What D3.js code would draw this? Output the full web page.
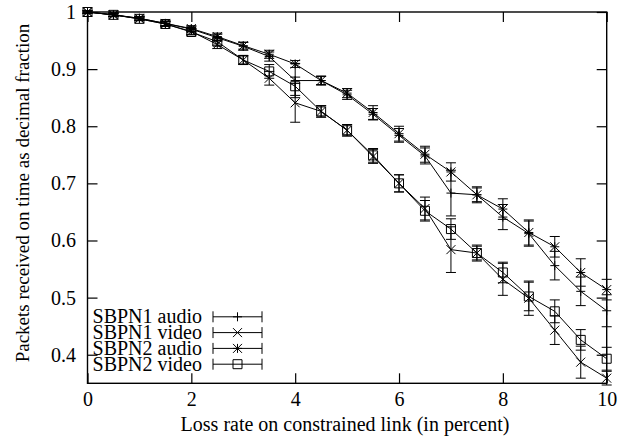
<!DOCTYPE html>
<html>
<head>
<meta charset="utf-8">
<script src="https://cdn.jsdelivr.net/npm/d3@7"></script>
<style>
  body { margin: 0; background: #fff; }
  svg { display: block; }
</style>
</head>
<body>
<svg id="chart" width="625" height="436"></svg>
<script>
// Loss rate on the constrained link (percent)
const lossRates = [0, 0.5, 1, 1.5, 2, 2.5, 3, 3.5, 4, 4.5, 5, 5.5, 6, 6.5, 7, 7.5, 8, 8.5, 9, 9.5, 10];

// Fraction of packets received on time, per stream
const sbpn1Audio = [1.0, 0.995, 0.989, 0.980, 0.970, 0.955, 0.940, 0.922, 0.880, 0.880, 0.855, 0.821, 0.784, 0.748, 0.683, 0.680, 0.641, 0.612, 0.556, 0.511, 0.477];
const sbpn2Audio = [1.0, 0.995, 0.989, 0.980, 0.971, 0.957, 0.941, 0.926, 0.909, 0.880, 0.858, 0.824, 0.787, 0.751, 0.720, 0.680, 0.655, 0.614, 0.589, 0.544, 0.514];
const sbpn1Video = [1.0, 0.995, 0.988, 0.979, 0.966, 0.943, 0.916, 0.884, 0.841, 0.826, 0.793, 0.747, 0.700, 0.656, 0.584, 0.578, 0.532, 0.499, 0.443, 0.387, 0.359];
const sbpn2Video = [1.0, 0.995, 0.988, 0.979, 0.965, 0.948, 0.916, 0.896, 0.870, 0.826, 0.793, 0.749, 0.700, 0.652, 0.620, 0.578, 0.544, 0.502, 0.476, 0.426, 0.393];

// Half-width of each error bar
const sbpn1AudioErr = [0.002, 0.003, 0.003, 0.004, 0.005, 0.006, 0.007, 0.008, 0.030, 0.008, 0.008, 0.010, 0.012, 0.014, 0.040, 0.012, 0.022, 0.022, 0.025, 0.025, 0.028];
const sbpn2AudioErr = [0.002, 0.003, 0.003, 0.004, 0.005, 0.006, 0.006, 0.007, 0.006, 0.007, 0.008, 0.012, 0.013, 0.014, 0.016, 0.014, 0.018, 0.022, 0.018, 0.024, 0.018];
const sbpn1VideoErr = [0.002, 0.003, 0.003, 0.004, 0.005, 0.007, 0.008, 0.012, 0.034, 0.010, 0.010, 0.012, 0.015, 0.020, 0.040, 0.012, 0.028, 0.030, 0.025, 0.028, 0.012];
const sbpn2VideoErr = [0.002, 0.003, 0.003, 0.004, 0.005, 0.006, 0.007, 0.012, 0.016, 0.010, 0.010, 0.012, 0.015, 0.018, 0.018, 0.014, 0.018, 0.025, 0.020, 0.018, 0.020];

const seriesNames = ["SBPN1 audio", "SBPN1 video", "SBPN2 audio", "SBPN2 video"];
const seriesMarkers = ["plus", "cross", "star", "square"];

const xTickValues = [0, 2, 4, 6, 8, 10];
const yTickValues = [0.4, 0.5, 0.6, 0.7, 0.8, 0.9, 1];
const xTitle = "Loss rate on constrained link (in percent)";
const yTitle = "Packets received on time as decimal fraction";

const series = [
  { name: seriesNames[0], marker: seriesMarkers[0], values: sbpn1Audio, errs: sbpn1AudioErr },
  { name: seriesNames[1], marker: seriesMarkers[1], values: sbpn1Video, errs: sbpn1VideoErr },
  { name: seriesNames[2], marker: seriesMarkers[2], values: sbpn2Audio, errs: sbpn2AudioErr },
  { name: seriesNames[3], marker: seriesMarkers[3], values: sbpn2Video, errs: sbpn2VideoErr }
];

const FONT = "'Liberation Serif', 'DejaVu Serif', serif";
const plot = { left: 87.5, right: 606.7, top: 12, bottom: 383.3 };
const svg = d3.select("#chart").attr("font-family", FONT);

const x = d3.scaleLinear().domain([0, 10]).range([plot.left, plot.right]);
const y = d3.scaleLinear().domain([0.35, 1]).range([plot.bottom, plot.top]);

// Marker glyphs, centred on the origin
const r = 4.5;
const markerPath = {
  plus:   `M${-r},0H${r}M0,${-r}V${r}`,
  cross:  `M${-r},${-r}L${r},${r}M${-r},${r}L${r},${-r}`,
  star:   `M${-r},0H${r}M0,${-r}V${r}M${-r},${-r}L${r},${r}M${-r},${r}L${r},${-r}`,
  square: `M${-r},${-r}H${r}V${r}H${-r}Z`
};

// Axes: inward ticks on all four sides
const tickLen = 10;
const labelSize = 20;
const fmt = d => (d === 1 ? "1" : d.toFixed(1));

const gx = svg.append("g").attr("transform", `translate(0,${plot.bottom})`)
  .call(d3.axisBottom(x).tickValues(xTickValues).tickSizeInner(-tickLen).tickSizeOuter(0).tickPadding(9));
const gxTop = svg.append("g").attr("transform", `translate(0,${plot.top})`)
  .call(d3.axisTop(x).tickValues(xTickValues).tickSizeInner(-tickLen).tickSizeOuter(0).tickFormat(""));
const gy = svg.append("g").attr("transform", `translate(${plot.left},0)`)
  .call(d3.axisLeft(y).tickValues(yTickValues).tickFormat(fmt).tickSizeInner(-tickLen).tickSizeOuter(0).tickPadding(11.5));
const gyRight = svg.append("g").attr("transform", `translate(${plot.right},0)`)
  .call(d3.axisRight(y).tickValues(yTickValues).tickSizeInner(-tickLen).tickSizeOuter(0).tickFormat(""));

[gx, gxTop, gy, gyRight].forEach(g => {
  g.attr("font-family", FONT).attr("font-size", labelSize);
  g.select(".domain").remove();
  g.selectAll(".tick line").attr("stroke", "#000").attr("stroke-width", 1.2);
  g.selectAll("text").style("font-family", FONT).attr("font-size", labelSize).attr("fill", "#000");
});

// Plot frame
svg.append("rect")
  .attr("x", plot.left).attr("y", plot.top)
  .attr("width", plot.right - plot.left).attr("height", plot.bottom - plot.top)
  .attr("fill", "none").attr("stroke", "#000").attr("stroke-width", 1.4);

// Axis titles
svg.append("text")
  .style("font-family", FONT)
  .attr("x", 345).attr("y", 430.5)
  .attr("text-anchor", "middle").attr("font-size", labelSize)
  .text(xTitle);
svg.append("text")
  .style("font-family", FONT)
  .attr("transform", `translate(29,193) rotate(-90)`)
  .attr("text-anchor", "middle").attr("font-size", 19)
  .text(yTitle);

// Series: connecting line, error bars, markers
const capHalf = 5;
const line = d3.line().x(d => x(d.x)).y(d => y(d.v));

series.forEach(s => {
  const pts = lossRates.map((lr, i) => ({ x: lr, v: s.values[i], e: s.errs[i] }));
  const g = svg.append("g").attr("fill", "none").attr("stroke", "#000").attr("stroke-width", 1);

  g.append("path").attr("d", line(pts));

  g.selectAll(".err").data(pts).join("path").attr("class", "err")
    .attr("d", d => {
      const cx = x(d.x), y0 = y(d.v - d.e), y1 = y(d.v + d.e);
      return `M${cx},${y0}V${y1}M${cx - capHalf},${y0}H${cx + capHalf}M${cx - capHalf},${y1}H${cx + capHalf}`;
    });

  g.selectAll(".mk").data(pts).join("path").attr("class", "mk")
    .attr("transform", d => `translate(${x(d.x)},${y(d.v)})`)
    .attr("d", markerPath[s.marker]);
});

// Legend, bottom left
const legend = svg.append("g");
const legendBase = 323.3, legendStep = 15.8;
series.forEach((s, i) => {
  const by = legendBase + i * legendStep;
  const cy = by - 6.5;
  legend.append("text")
    .style("font-family", FONT)
    .attr("x", 202).attr("y", by).attr("text-anchor", "end").attr("font-size", labelSize)
    .text(s.name);
  const lg = legend.append("g").attr("fill", "none").attr("stroke", "#000").attr("stroke-width", 1);
  lg.append("path").attr("d", `M213,${cy}H262M213,${cy - 5.5}V${cy + 5.5}M262,${cy - 5.5}V${cy + 5.5}`);
  lg.append("path").attr("transform", `translate(237.5,${cy})`).attr("d", markerPath[s.marker]);
});
</script>
</body>
</html>
